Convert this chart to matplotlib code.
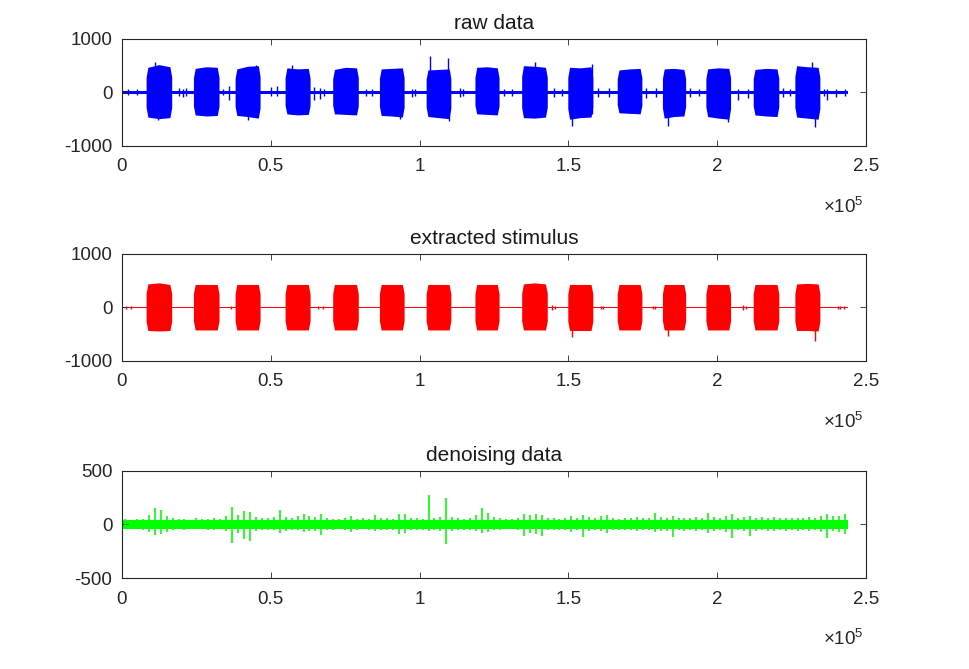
import matplotlib
matplotlib.use("Agg")
import matplotlib.pyplot as plt

plt.rcParams["font.family"] = ["Liberation Sans", "DejaVu Sans"]
plt.rcParams["axes.unicode_minus"] = False
plt.rcParams["mathtext.default"] = "regular"

# --- data (sample index, amplitude) ---
signal_end = 244000

burst_start = [8100, 24000, 38000, 54800, 70800, 86500, 102200, 118600,
               134300, 149800, 166400, 181600, 196200, 212100, 226100]
burst_end = [16700, 32600, 46400, 63200, 79400, 94800, 110500, 126700,
             142900, 158200, 174700, 189400, 204500, 220700, 234500]

# raw data: envelope of each burst (top/bottom at start, middle, end)
raw_noise = 32
raw_top = [[470, 520, 480], [450, 480, 470], [440, 490, 500], [460, 440, 450],
           [430, 470, 460], [440, 450, 460], [420, 430, 440], [470, 480, 460],
           [500, 490, 470], [470, 460, 480], [420, 440, 450], [440, 450, 430],
           [440, 460, 450], [430, 450, 440], [500, 480, 470]]
raw_bot = [[-460, -490, -470], [-420, -440, -430], [-430, -450, -480], [-400, -420, -410],
           [-400, -410, -420], [-430, -440, -460], [-450, -470, -490], [-400, -410, -420],
           [-470, -480, -460], [-500, -470, -460], [-380, -390, -400], [-480, -450, -440],
           [-450, -480, -500], [-420, -440, -450], [-460, -480, -500]]
raw_spk_x = [2000, 5000, 11000, 12000, 19000, 20500, 21500, 34000, 36000, 42300,
             45000, 50000, 52000, 57000, 64500, 66500, 68000, 82000, 84000, 93400,
             97500, 98500, 103500, 109500, 110000, 113500, 114500, 128500, 131000,
             138800, 145000, 148000, 151100, 158000, 160000, 163500, 176000, 179500,
             183600, 191000, 194000, 203600, 207000, 210500, 222000, 224500, 231700,
             232900, 236000, 237000, 240000, 243000]
raw_spk_hi = [60, 70, 560, 420, 80, 70, 90, 70, 120, 420,
              520, 110, 120, 520, 110, 90, 70, 70, 60, 420,
              60, 70, 680, 650, 400, 80, 70, 70, 60,
              560, 80, 70, 400, 530, 90, 80, 90, 80,
              400, 80, 70, 400, 70, 60, 80, 70, 560,
              400, 70, 60, 70, 60]
raw_spk_lo = [-40, -50, -400, -520, -60, -80, -70, -50, -140, -520,
              -400, -60, -70, -400, -150, -120, -70, -60, -70, -500,
              -80, -60, -400, -400, -540, -80, -70, -60, -70,
              -400, -80, -70, -620, -400, -90, -80, -100, -90,
              -620, -80, -70, -560, -150, -100, -80, -70, -400,
              -650, -70, -150, -80, -60]

# extracted stimulus
stim_noise = 10
stim_top = [[440, 460, 430], [430, 430, 430], [430, 430, 430], [430, 430, 430],
            [430, 430, 430], [430, 430, 430], [430, 430, 430], [430, 430, 430],
            [440, 460, 440], [430, 430, 430], [430, 430, 430], [430, 430, 430],
            [430, 430, 430], [430, 430, 430], [440, 450, 440]]
stim_bot = [[-430, -440, -430], [-420, -420, -420], [-420, -420, -420], [-420, -420, -420],
            [-420, -420, -420], [-420, -420, -420], [-420, -420, -420], [-420, -420, -420],
            [-420, -420, -420], [-430, -430, -430], [-420, -420, -420], [-420, -420, -420],
            [-420, -420, -420], [-420, -420, -420], [-430, -430, -440]]
stim_spk_x = [1500, 3000, 36500, 66000, 67500, 144400, 145500, 151100, 160800, 161600,
              178400, 179200, 183500, 208700, 209800, 232900, 240500, 241300, 242500]
stim_spk_hi = [20, 25, 30, 35, 30, 40, 35, 400, 25, 30, 30, 25, 400, 40, 35, 400, 25, 30, 25]
stim_spk_lo = [-20, -25, -30, -35, -30, -40, -35, -560, -25, -30, -30, -25, -540, -40, -35, -620, -25, -30, -25]

# denoising data: max/min of the trace in 2000-sample windows
den_noise = 42
den_x = list(range(1000, 244000, 2000))
den_hi = [50, 45, 55, 50, 90, 150, 140, 80, 60, 50,
          55, 45, 60, 50, 55, 60, 50, 80, 165, 90,
          130, 120, 70, 65, 60, 70, 135, 70, 60, 75,
          100, 80, 70, 95, 60, 55, 50, 60, 75, 55,
          60, 55, 85, 60, 65, 55, 100, 95, 60, 60,
          55, 280, 65, 70, 245, 70, 60, 55, 65, 90,
          150, 110, 70, 60, 55, 50, 65, 100, 90, 95,
          85, 65, 60, 55, 65, 75, 60, 90, 70, 65,
          80, 90, 60, 55, 65, 60, 70, 65, 60, 110,
          70, 65, 75, 60, 65, 60, 70, 65, 105, 70,
          65, 80, 95, 60, 70, 80, 65, 70, 65, 70,
          60, 65, 60, 65, 60, 70, 65, 80, 95, 75,
          80, 100]
den_lo = [-45, -40, -45, -50, -70, -100, -90, -70, -50, -45,
          -50, -40, -45, -45, -50, -50, -45, -60, -175, -80,
          -140, -150, -60, -55, -50, -55, -75, -60, -50, -55,
          -70, -60, -60, -95, -50, -50, -45, -55, -70, -50,
          -45, -50, -60, -55, -55, -50, -90, -80, -55, -50,
          -50, -60, -55, -60, -185, -60, -55, -50, -55, -60,
          -75, -70, -55, -50, -45, -45, -55, -110, -80, -90,
          -105, -55, -50, -50, -55, -70, -55, -120, -60, -55,
          -65, -80, -55, -50, -55, -55, -65, -55, -50, -70,
          -60, -60, -120, -55, -60, -55, -60, -55, -80, -60,
          -55, -70, -130, -55, -60, -110, -60, -55, -60, -60,
          -55, -60, -55, -60, -55, -60, -55, -70, -130, -60,
          -70, -85]

xticks = [0, 50000, 100000, 150000, 200000, 250000]
xtick_labels = ["0", "0.5", "1", "1.5", "2", "2.5"]


def draw_bursts(ax, color, tops, bots):
    for s, e, t, b in zip(burst_start, burst_end, tops, bots):
        xs = [s, s + 600, (s + e) / 2, e - 600, e]
        ax.fill_between(xs, [0.6 * t[0], t[0], t[1], t[2], 0.6 * t[2]],
                        [0.6 * b[0], b[0], b[1], b[2], 0.6 * b[2]], color=color, lw=0)


def style_panel(ax, title, ylim, yticks):
    ax.set_xlim(0, 250000)
    ax.set_ylim(*ylim)
    ax.set_xticks(xticks)
    ax.set_xticklabels(xtick_labels)
    ax.set_yticks(yticks)
    ax.set_yticklabels([str(v) for v in yticks])
    ax.tick_params(direction="in", top=True, right=True, length=4, width=0.6,
                   labelsize=13.5, colors="#262626")
    ax.tick_params(axis="x", pad=9)
    ax.tick_params(axis="y", pad=7)
    for sp in ax.spines.values():
        sp.set_linewidth(0.8)
        sp.set_color("#262626")
    ax.set_title(title, fontsize=15, color="#1a1a1a", pad=7)
    ax.annotate(r"$\times10^{5}$", xy=(1, 0), xycoords="axes fraction",
                xytext=(-2, -44), textcoords="offset points",
                ha="right", va="center", fontsize=13.5, color="#262626")


fig = plt.figure(figsize=(9.69, 6.69), dpi=100)
ax1 = fig.add_axes([0.1259, 0.7818, 0.7678, 0.16])
ax2 = fig.add_axes([0.1259, 0.4604, 0.7678, 0.16])
ax3 = fig.add_axes([0.1259, 0.1360, 0.7678, 0.16])

# raw data
ax1.fill_between([0, signal_end], raw_noise, -raw_noise, color="#0000ff", lw=0)
draw_bursts(ax1, "#0000ff", raw_top, raw_bot)
ax1.vlines(raw_spk_x, raw_spk_lo, raw_spk_hi, color="#0000ff", lw=1)
style_panel(ax1, "raw data", (-1000, 1000), [-1000, 0, 1000])

# extracted stimulus
ax2.fill_between([0, signal_end], stim_noise, -stim_noise, color="#ff0000", lw=0)
draw_bursts(ax2, "#ff0000", stim_top, stim_bot)
ax2.vlines(stim_spk_x, stim_spk_lo, stim_spk_hi, color="#ff0000", lw=1)
style_panel(ax2, "extracted stimulus", (-1000, 1000), [-1000, 0, 1000])

# denoising data: one stroke per window, from its min to its max
ax3.fill_between([0, signal_end], den_noise, -den_noise, color="#00ff00", lw=0)
ax3.vlines(den_x, den_lo, den_hi, color="#00ff00", lw=1.2)
style_panel(ax3, "denoising data", (-500, 500), [-500, 0, 500])

fig.savefig("out.png", dpi=100)
